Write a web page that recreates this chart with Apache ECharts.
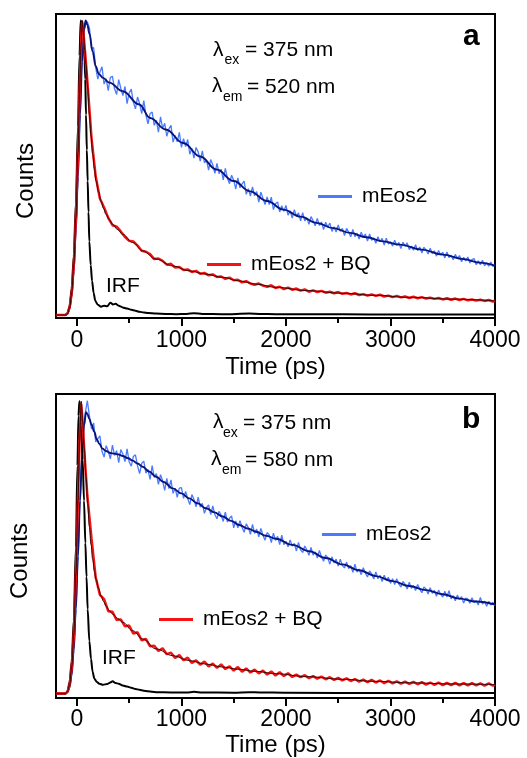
<!DOCTYPE html>
<html><head><meta charset="utf-8">
<script src="https://cdn.jsdelivr.net/npm/echarts@6/dist/echarts.min.js"></script>
<style>html,body{margin:0;padding:0;background:#fff}#c{width:527px;height:758px}</style>
</head><body><div id="c"></div><script>
// ---------- axis ticks ----------
const xMajorTicks = [0, 1000, 2000, 3000, 4000];
const xMinorTicks = [500, 1500, 2500, 3500];

// ---------- raw data time channels (ps) ----------
const riseTimePs = [-200,-110,-90,-70,-50,-30,-10,10,25,40,50,60,80];
// red decays: 40 ps channels
const redDecayTimePs = [100,140,180,220,260,300,340,380,420,460,
500,540,580,620,660,700,740,780,820,860,
900,940,980,1020,1060,1100,1140,1180,1220,1260,
1300,1340,1380,1420,1460,1500,1540,1580,1620,1660,
1700,1740,1780,1820,1860,1900,1940,1980,2020,2060,
2100,2140,2180,2220,2260,2300,2340,2380,2420,2460,
2500,2540,2580,2620,2660,2700,2740,2780,2820,2860,
2900,2940,2980,3020,3060,3100,3140,3180,3220,3260,
3300,3340,3380,3420,3460,3500,3540,3580,3620,3660,
3700,3740,3780,3820,3860,3900,3940,3980,4000];
// blue decays: 20 ps channels
const blueDecayTimePs = [100,120,140,160,180,200,220,240,260,280,
300,320,340,360,380,400,420,440,460,480,
500,520,540,560,580,600,620,640,660,680,
700,720,740,760,780,800,820,840,860,880,
900,920,940,960,980,1000,1020,1040,1060,1080,
1100,1120,1140,1160,1180,1200,1220,1240,1260,1280,
1300,1320,1340,1360,1380,1400,1420,1440,1460,1480,
1500,1520,1540,1560,1580,1600,1620,1640,1660,1680,
1700,1720,1740,1760,1780,1800,1820,1840,1860,1880,
1900,1920,1940,1960,1980,2000,2020,2040,2060,2080,
2100,2120,2140,2160,2180,2200,2220,2240,2260,2280,
2300,2320,2340,2360,2380,2400,2420,2440,2460,2480,
2500,2520,2540,2560,2580,2600,2620,2640,2660,2680,
2700,2720,2740,2760,2780,2800,2820,2840,2860,2880,
2900,2920,2940,2960,2980,3000,3020,3040,3060,3080,
3100,3120,3140,3160,3180,3200,3220,3240,3260,3280,
3300,3320,3340,3360,3380,3400,3420,3440,3460,3480,
3500,3520,3540,3560,3580,3600,3620,3640,3660,3680,
3700,3720,3740,3760,3780,3800,3820,3840,3860,3880,
3900,3920,3940,3960,3980,4000];

// ---------- panel a (520 nm) ----------
const blueRawA = [0,0,0.005,0.022,0.065,0.15,0.29,0.47,0.63,0.79,0.88,0.94,0.995,
0.995,0.975,0.905,0.908,0.84,0.801,0.825,0.843,0.784,0.802,
0.762,0.807,0.81,0.768,0.749,0.799,0.77,0.745,0.776,0.718,
0.754,0.767,0.723,0.7,0.74,0.718,0.684,0.728,0.68,0.649,
0.684,0.689,0.644,0.661,0.621,0.673,0.634,0.651,0.607,0.632,
0.644,0.587,0.61,0.588,0.62,0.569,0.599,0.572,0.596,0.546,
0.566,0.533,0.569,0.554,0.523,0.557,0.517,0.525,0.492,0.528,
0.51,0.481,0.515,0.48,0.495,0.459,0.498,0.465,0.446,0.475,
0.458,0.428,0.466,0.432,0.445,0.455,0.41,0.429,0.404,0.435,
0.405,0.419,0.383,0.417,0.397,0.375,0.401,0.375,0.4,0.358,
0.378,0.384,0.35,0.371,0.352,0.372,0.339,0.354,0.329,0.358,
0.336,0.347,0.32,0.348,0.32,0.33,0.308,0.334,0.32,0.303,
0.328,0.304,0.316,0.29,0.315,0.299,0.312,0.284,0.3,0.282,
0.306,0.284,0.294,0.27,0.294,0.282,0.266,0.291,0.266,0.278,
0.258,0.281,0.265,0.275,0.251,0.275,0.254,0.262,0.244,0.266,
0.249,0.26,0.238,0.261,0.241,0.249,0.234,0.254,0.237,0.246,
0.226,0.247,0.233,0.245,0.222,0.234,0.22,0.239,0.219,0.231,
0.211,0.23,0.221,0.207,0.227,0.209,0.218,0.2,0.219,0.204,
0.213,0.194,0.214,0.195,0.203,0.188,0.206,0.192,0.202,0.181,
0.196,0.184,0.197,0.177,0.188,0.192,0.171,0.184,0.171,0.186,
0.167,0.177,0.166,0.18,0.165,0.17];
const redRawA = [0,0,0.005,0.025,0.075,0.17,0.33,0.55,0.75,0.92,0.995,0.97,0.885,
0.795,0.6,0.47,0.396,0.365,0.33,0.305,0.3,0.284,0.265,
0.252,0.25,0.236,0.218,0.215,0.207,0.19,0.192,0.184,0.171,
0.174,0.161,0.163,0.153,0.155,0.146,0.15,0.14,0.143,0.135,
0.138,0.129,0.131,0.123,0.127,0.118,0.12,0.111,0.115,0.107,
0.103,0.107,0.1,0.096,0.101,0.092,0.096,0.088,0.093,0.086,
0.09,0.083,0.087,0.079,0.084,0.078,0.082,0.076,0.079,0.074,
0.078,0.072,0.075,0.07,0.074,0.068,0.071,0.066,0.07,0.065,
0.069,0.063,0.066,0.061,0.065,0.06,0.063,0.058,0.062,0.057,
0.061,0.056,0.059,0.055,0.058,0.053,0.057,0.052,0.056,0.051,
0.055,0.05,0.053,0.049,0.052,0.048,0.051,0.046,0.049];
const blueFitTimeA = [-200,-110,-90,-70,-50,-30,-10,10,30,50,70,84,100,120,150,180,210,250,310,438,597,700,850,1018,1180,1337,1500,1656,1820,1975,2140,2294,2450,2613,2770,2932,3091,3300,3500,3700,3850,4000];
const blueFitA = [0,0,0.005,0.022,0.065,0.15,0.29,0.47,0.68,0.86,0.97,1.0,0.985,0.955,0.895,0.845,0.818,0.805,0.789,0.76,0.715,0.669,0.63,0.584,0.538,0.494,0.455,0.42,0.387,0.358,0.334,0.313,0.295,0.279,0.264,0.25,0.239,0.222,0.205,0.19,0.178,0.168];
const redFitTimeA = [-200,-110,-90,-70,-50,-30,-10,10,25,40,52,62,75,87,103,119,135,151,167,183,207,231,255,278,310,342,390,438,534,630,757,916,1075,1235,1395,1550,1714,1905,2200,2543,2850,3180,3600,4000];
const redFitA = [0,0,0.005,0.025,0.075,0.17,0.33,0.55,0.75,0.92,1.0,0.96,0.9,0.851,0.77,0.681,0.61,0.546,0.497,0.455,0.418,0.387,0.362,0.342,0.324,0.308,0.29,0.274,0.246,0.218,0.19,0.167,0.15,0.139,0.128,0.116,0.105,0.094,0.083,0.074,0.067,0.06,0.054,0.048];
const irfTimeA = [-200,-110,-90,-70,-50,-30,-10,10,25,36,50,62,71,80,87,95,103,111,119,132,145,160,176,200,231,260,290,320,345,370,400,438,480,520,560,597,640,680,757,850,950,1050,1120,1200,1400,1650,1750,1900,2300,2800,3300,4000];
const irfA = [0,0,0.006,0.03,0.09,0.2,0.38,0.64,0.88,1.0,0.98,0.95,0.9,0.8,0.68,0.56,0.455,0.35,0.25,0.17,0.116,0.075,0.048,0.035,0.028,0.032,0.03,0.042,0.036,0.038,0.032,0.026,0.022,0.018,0.015,0.011,0.009,0.007,0.005,0.004,0.003,0.004,0.006,0.004,0.003,0.005,0.004,0.003,0.003,0.002,0.002,0.002];

// ---------- panel b (580 nm) ----------
const blueRawB = [0,0,0.005,0.022,0.065,0.15,0.29,0.47,0.62,0.76,0.84,0.9,0.96,
1.002,0.949,0.905,0.926,0.861,0.872,0.882,0.829,0.809,0.848,
0.83,0.803,0.85,0.815,0.831,0.79,0.835,0.819,0.794,0.837,
0.793,0.778,0.811,0.817,0.779,0.753,0.788,0.795,0.754,0.767,
0.733,0.78,0.74,0.753,0.716,0.749,0.728,0.695,0.736,0.701,
0.731,0.685,0.703,0.671,0.703,0.705,0.668,0.692,0.667,0.647,
0.681,0.664,0.639,0.672,0.638,0.651,0.617,0.637,0.646,0.612,
0.642,0.613,0.598,0.624,0.611,0.589,0.621,0.587,0.6,0.608,
0.567,0.591,0.567,0.592,0.569,0.552,0.581,0.568,0.545,0.579,
0.548,0.563,0.536,0.565,0.542,0.525,0.551,0.543,0.517,0.549,
0.524,0.538,0.51,0.542,0.51,0.521,0.502,0.526,0.505,0.514,
0.488,0.517,0.492,0.483,0.505,0.492,0.473,0.5,0.474,0.485,
0.464,0.49,0.468,0.453,0.474,0.465,0.443,0.468,0.447,0.46,
0.436,0.46,0.438,0.43,0.45,0.428,0.438,0.415,0.443,0.416,
0.426,0.407,0.431,0.412,0.399,0.42,0.41,0.392,0.416,0.393,
0.405,0.383,0.405,0.387,0.398,0.377,0.393,0.373,0.393,0.375,
0.365,0.384,0.374,0.358,0.381,0.36,0.369,0.353,0.373,0.357,
0.345,0.365,0.358,0.341,0.362,0.343,0.353,0.333,0.354,0.34,
0.33,0.35,0.331,0.352,0.324,0.335,0.318,0.337,0.322,0.332,
0.31,0.327,0.324,0.309,0.328,0.311,0.318,0.303,0.329,0.306,
0.316,0.299,0.316,0.303,0.312,0.301];
const redRawB = [0,0,0.006,0.03,0.09,0.2,0.41,0.66,0.86,0.99,0.955,0.895,0.78,
0.677,0.53,0.397,0.338,0.323,0.282,0.28,0.252,0.254,0.23,
0.233,0.205,0.21,0.182,0.187,0.162,0.164,0.146,0.155,0.135,
0.14,0.122,0.132,0.114,0.123,0.105,0.114,0.099,0.11,0.093,
0.103,0.088,0.1,0.084,0.093,0.079,0.091,0.075,0.086,0.072,
0.082,0.069,0.079,0.065,0.076,0.062,0.073,0.06,0.07,0.057,
0.065,0.056,0.063,0.053,0.06,0.051,0.058,0.049,0.056,0.047,
0.054,0.045,0.052,0.043,0.05,0.041,0.048,0.039,0.047,0.038,
0.045,0.036,0.044,0.035,0.042,0.034,0.041,0.033,0.04,0.032,
0.039,0.031,0.038,0.03,0.038,0.029,0.037,0.029,0.037,0.028,
0.036,0.028,0.036,0.028,0.035,0.027,0.035,0.027,0.031];
const blueFitTimeB = [-200,-110,-90,-70,-50,-30,-10,10,30,50,70,87,100,119,140,167,190,214,245,278,320,358,400,438,490,534,580,630,690,757,830,917,1000,1075,1155,1235,1315,1395,1475,1554,1633,1713,1810,1905,2060,2224,2380,2542,2700,2861,3020,3180,3340,3499,3660,3818,4000];
const blueFitB = [0,0,0.005,0.022,0.065,0.15,0.29,0.47,0.66,0.82,0.92,0.963,0.957,0.94,0.92,0.895,0.87,0.855,0.838,0.83,0.823,0.821,0.818,0.813,0.805,0.797,0.787,0.776,0.76,0.742,0.724,0.702,0.685,0.668,0.651,0.634,0.62,0.606,0.591,0.577,0.565,0.554,0.54,0.53,0.509,0.487,0.464,0.442,0.422,0.402,0.385,0.368,0.354,0.34,0.325,0.315,0.305];
const redFitTimeB = [-200,-110,-90,-70,-50,-30,-10,10,25,42,55,70,87,103,119,135,151,167,183,207,231,255,278,310,342,390,438,534,630,757,917,1075,1235,1395,1550,1713,1905,2200,2542,2850,3180,3600,4000];
const redFitB = [0,0,0.006,0.03,0.09,0.2,0.41,0.66,0.86,1.0,0.93,0.84,0.742,0.65,0.572,0.51,0.459,0.42,0.391,0.36,0.334,0.315,0.3,0.284,0.272,0.257,0.244,0.215,0.187,0.153,0.13,0.113,0.101,0.091,0.083,0.076,0.068,0.058,0.049,0.042,0.037,0.033,0.031];
const irfTimeB = [-200,-110,-90,-70,-50,-30,-10,5,15,24,35,55,68,81,92,103,119,135,150,167,190,214,250,290,320,342,370,400,438,480,520,560,597,640,680,757,900,1050,1120,1200,1500,1650,1750,2000,3000,4000];
const irfB = [0,0,0.008,0.04,0.11,0.25,0.5,0.78,0.95,1.0,0.97,0.8,0.66,0.515,0.4,0.289,0.18,0.119,0.075,0.051,0.04,0.034,0.03,0.033,0.038,0.042,0.036,0.034,0.028,0.024,0.02,0.016,0.013,0.01,0.008,0.005,0.004,0.004,0.006,0.004,0.003,0.005,0.004,0.003,0.002,0.002];

// ---------- styling ----------
const FONT = '"Liberation Sans", Arial, Helvetica, sans-serif';
const BLUE = '#4a7bff', NAVY = '#0a1478', RED = '#f41414', REDFIT = '#3a0606';
const blueTimePs = riseTimePs.concat(blueDecayTimePs);
const redTimePs = riseTimePs.concat(redDecayTimePs);
const pairs = (t, v) => t.map((x, i) => [x, v[i]]);

const grids = [
  {left: 56, top: 14, width: 439, height: 304},
  {left: 56, top: 394, width: 439, height: 306}
];
const yRanges = [[-0.01, 1.022], [-0.015, 1.025]];
const labelMargins = [11, 10];
const nameGaps = [37, 35];

function xAxesFor(gi) {
  return [
    {type: 'value', gridIndex: gi, min: -200, max: 4000, position: 'bottom',
     name: 'Time (ps)', nameLocation: 'middle', nameGap: nameGaps[gi],
     nameTextStyle: {fontSize: 24, color: '#000', fontFamily: FONT},
     axisLine: {show: true, onZero: false, lineStyle: {color: '#000', width: 2}},
     axisTick: {show: true, customValues: xMajorTicks, length: 8, lineStyle: {color: '#000', width: 2}},
     axisLabel: {show: true, customValues: xMajorTicks, margin: labelMargins[gi], fontSize: 23, color: '#000', fontFamily: FONT,
                 formatter: v => String(v)},
     splitLine: {show: false}},
    {type: 'value', gridIndex: gi, min: -200, max: 4000, position: 'bottom',
     axisLine: {show: false, onZero: false},
     axisTick: {show: true, customValues: xMinorTicks, length: 5, lineStyle: {color: '#000', width: 2}},
     axisLabel: {show: false}, splitLine: {show: false}}
  ];
}

function seriesFor(gi, d) {
  const base = {type: 'line', xAxisIndex: gi * 2, yAxisIndex: gi, symbol: 'none', showSymbol: false, animation: false, silent: true};
  return [
    Object.assign({}, base, {name: 'mEos2', data: pairs(blueTimePs, d.blueRaw), lineStyle: {width: 1.3, color: BLUE}, itemStyle: {color: BLUE}, z: 2}),
    Object.assign({}, base, {name: 'mEos2 fit', data: pairs(d.blueFitT, d.blueFit), smooth: 0.4, smoothMonotone: 'x', lineStyle: {width: 1.9, color: NAVY}, itemStyle: {color: NAVY}, z: 3}),
    Object.assign({}, base, {name: 'IRF', data: pairs(d.irfT, d.irf), smooth: 0.3, smoothMonotone: 'x', lineStyle: {width: 2, color: '#000'}, itemStyle: {color: '#000'}, z: 4}),
    Object.assign({}, base, {name: 'mEos2 + BQ', data: pairs(redTimePs, d.redRaw), lineStyle: {width: 2.5, color: RED}, itemStyle: {color: RED}, z: 5}),
    Object.assign({}, base, {name: 'mEos2 + BQ fit', data: pairs(d.redFitT, d.redFit), smooth: 0.4, smoothMonotone: 'x', lineStyle: {width: 1.0, color: REDFIT}, itemStyle: {color: REDFIT}, z: 6})
  ];
}

const panelA = {blueRaw: blueRawA, redRaw: redRawA, blueFitT: blueFitTimeA, blueFit: blueFitA, redFitT: redFitTimeA, redFit: redFitA, irfT: irfTimeA, irf: irfA};
const panelB = {blueRaw: blueRawB, redRaw: redRawB, blueFitT: blueFitTimeB, blueFit: blueFitB, redFitT: redFitTimeB, redFit: redFitB, irfT: irfTimeB, irf: irfB};

function legendAt(name, color, left, top) {
  return {data: [{name: name, itemStyle: {color: color}}], left: left, top: top, orient: 'horizontal',
          icon: 'rect', itemWidth: 34, itemHeight: 3, selectedMode: false, padding: 0,
          textStyle: {fontSize: 21, color: '#000', fontFamily: FONT, padding: [0, 0, 0, 5]}};
}

function txt(text, x, y, size) {
  return {type: 'text', x: x, y: y, silent: true,
    style: {text: text, fill: '#000', font: size + 'px ' + FONT, align: 'left', verticalAlign: 'middle'}};
}
function boldTxt(text, x, y, size) {
  return {type: 'text', x: x, y: y, silent: true,
    style: {text: text, fill: '#000', font: 'bold ' + size + 'px ' + FONT, align: 'left', verticalAlign: 'middle'}};
}
function rotTxt(text, x, y, size) {
  return {type: 'text', x: x, y: y, rotation: Math.PI / 2, silent: true,
    style: {text: text, fill: '#000', font: size + 'px ' + FONT, align: 'center', verticalAlign: 'middle'}};
}

const chart = echarts.init(document.getElementById('c'), null, {renderer: 'canvas'});
chart.setOption({
  animation: false,
  backgroundColor: '#fff',
  grid: grids.map(g => Object.assign({show: true, borderColor: '#000', borderWidth: 2, backgroundColor: 'transparent', containLabel: false}, g)),
  xAxis: xAxesFor(0).concat(xAxesFor(1)),
  yAxis: yRanges.map((r, gi) => ({type: 'value', gridIndex: gi, min: r[0], max: r[1], show: false})),
  legend: [
    legendAt('mEos2', BLUE, 318, 186),
    legendAt('mEos2 + BQ', RED, 207, 254),
    legendAt('mEos2', BLUE, 322, 524),
    legendAt('mEos2 + BQ', RED, 159, 609)
  ],
  graphic: [
    rotTxt('Counts', 26, 181, 24),
    txt('λ', 213, 50, 21), txt('ex', 224.5, 60, 14), txt('= 375 nm', 245, 50, 21),
    txt('λ', 212, 86, 21), txt('em', 223, 97, 14), txt('= 520 nm', 247, 87, 21),
    boldTxt('a', 463, 36.5, 30),
    txt('IRF', 106, 286.5, 21),
    rotTxt('Counts', 20, 561, 24),
    txt('λ', 213, 422, 21), txt('ex', 223, 433, 14), txt('= 375 nm', 243, 423, 21),
    txt('λ', 211, 459, 21), txt('em', 222, 470, 14), txt('= 580 nm', 245, 460, 21),
    boldTxt('b', 462, 419.5, 30),
    txt('IRF', 102, 658, 21)
  ],
  series: seriesFor(0, panelA).concat(seriesFor(1, panelB))
});
</script></body></html>
